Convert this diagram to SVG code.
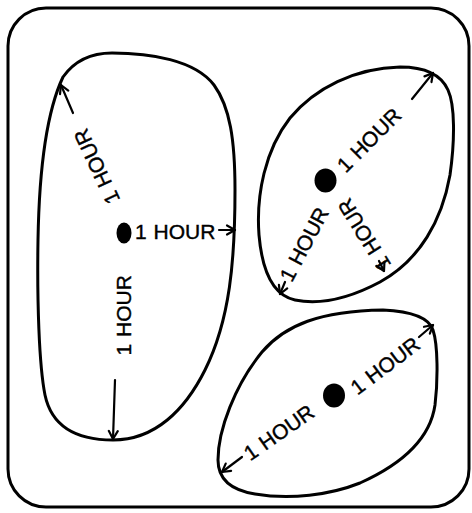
<svg xmlns="http://www.w3.org/2000/svg" width="472" height="513" viewBox="0 0 472 513">
<style>
.blob{fill:none;stroke:#000;stroke-width:3;stroke-linejoin:round}
.dot{fill:#000}
.lbl{font-family:"Liberation Sans",Arial,sans-serif;font-size:21px;fill:#000;stroke:#000;stroke-width:0.4;word-spacing:1px}
.arr{fill:none;stroke:#000;stroke-width:2.2;stroke-linecap:round;marker-end:url(#ah)}
</style>
<defs>
<marker id="ah" viewBox="-10 -6 12 12" refX="0" refY="0" markerWidth="12" markerHeight="12" markerUnits="userSpaceOnUse" orient="auto">
<path d="M-8,-4.5 L0,0 L-8,4.5" fill="none" stroke="#000" stroke-width="2.2" stroke-linecap="round" stroke-linejoin="round"/>
</marker>
</defs>
<rect id="frame" x="8" y="8" width="461" height="499" rx="38" fill="#fff" stroke="#000" stroke-width="3"/>
<g id="zone-left">
<path class="blob" d="M63,77 C75,60 92,53 112,53 C150,53 195,60 214,85 C230,107 235,140 235,190 C235,260 230,320 205,370 C185,410 155,440 113,440 C78,440 52,428 45,395 C39,365 37,300 38,240 C39,180 45,115 63,77 Z"/>
<ellipse class="dot" cx="124" cy="233" rx="7.5" ry="10.5"/>
<text class="lbl" x="135" y="238.5">1 HOUR</text>
<text class="lbl" transform="translate(130.5,355.5) rotate(-90)">1 HOUR</text>
<text class="lbl" transform="translate(120.4,199.8) rotate(-115)">1 HOUR</text>
</g>
<g id="zone-top-right">
<path class="blob" d="M400,67 C420,67 440,72 448,90 C455,105 455,140 450,175 C442,220 420,260 380,282 C350,298 320,305 295,300 C272,295 262,270 259,235 C256,195 265,150 290,118 C315,88 355,68 400,67 Z"/>
<ellipse class="dot" cx="325.5" cy="180.5" rx="11" ry="12"/>
<text class="lbl" transform="translate(345.8,173.7) rotate(-45)">1 HOUR</text>
<text class="lbl" transform="translate(391.7,264.7) rotate(-122)">1 HOUR</text>
<text class="lbl" transform="translate(291.7,283.2) rotate(-62)">1 HOUR</text>
</g>
<g id="zone-bottom-right">
<path class="blob" d="M383,310 C405,311 428,315 433,330 C438,345 438,380 435,405 C430,440 400,465 360,483 C330,495 290,500 255,494 C230,490 218,478 218,460 C218,430 235,385 262,352 C285,325 320,311 383,310 Z"/>
<ellipse class="dot" cx="334" cy="395.5" rx="11" ry="12"/>
<text class="lbl" transform="translate(357.5,395.8) rotate(-37)">1 HOUR</text>
<text class="lbl" transform="translate(250.2,461.6) rotate(-35)">1 HOUR</text>
</g>
<g id="connectors">
<path class="arr" d="M73,113 L61,85"/>
<path class="arr" d="M219,230 L235,230"/>
<path class="arr" d="M115,380 L113,439"/>
<path class="arr" d="M412,99 L433,73"/>
<path class="arr" d="M379,261 L384,271"/>
<path class="arr" d="M285,282 L280,294"/>
<path class="arr" d="M419,337 L433,325"/>
<path class="arr" d="M242,457 L222,472"/>
</g>
</svg>
